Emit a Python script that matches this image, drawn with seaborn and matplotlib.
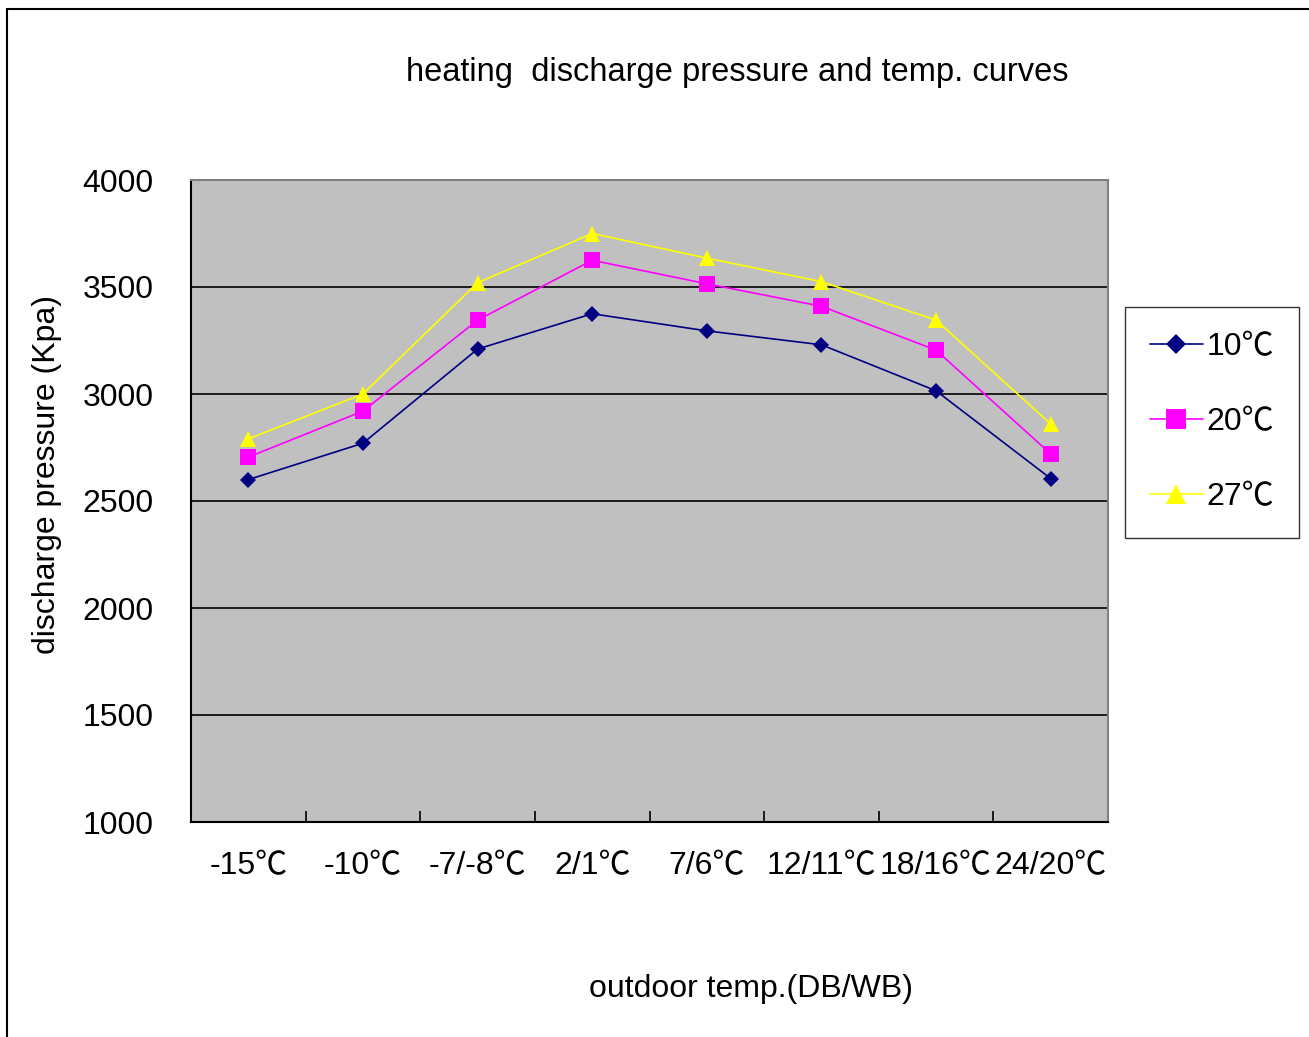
import matplotlib
matplotlib.use("Agg")
import matplotlib.pyplot as plt
from matplotlib.patches import Rectangle
from matplotlib.ticker import FixedLocator
import seaborn as sns
import pandas as pd

categories = ["-15℃", "-10℃", "-7/-8℃", "2/1℃", "7/6℃", "12/11℃", "18/16℃", "24/20℃"]
series_names = ["10℃", "20℃", "27℃"]
p_10 = [2600, 2770, 3210, 3375, 3295, 3230, 3015, 2605]
p_20 = [2705, 2920, 3345, 3625, 3515, 3410, 3205, 2720]
p_27 = [2790, 3000, 3520, 3750, 3635, 3525, 3345, 2860]
y_ticks = [1000, 1500, 2000, 2500, 3000, 3500, 4000]

rows = []
for name, vals in zip(series_names, [p_10, p_20, p_27]):
    for i, v in enumerate(vals):
        rows.append({"pos": i, "series": name, "pressure": v})
df = pd.DataFrame(rows)

sns.set_theme(style="white")
plt.rcParams["font.family"] = ["Liberation Sans", "Noto Sans CJK SC", "DejaVu Sans"]
plt.rcParams["text.color"] = "black"
plt.rcParams["xtick.color"] = "black"
plt.rcParams["ytick.color"] = "black"

FS = 23
W, H = 1309, 1037
fig = plt.figure(figsize=(W / 100, H / 100), dpi=100)
ax = fig.add_axes([191 / W, 1 - 822 / H, (1108 - 191) / W, (822 - 180) / H])
ax.set_facecolor("#C0C0C0")

palette = {"10℃": "#000080", "20℃": "#FF00FF", "27℃": "#FFFF00"}
markers = {"10℃": "D", "20℃": "s", "27℃": "^"}
sns.lineplot(data=df, x="pos", y="pressure", hue="series", style="series",
             palette=palette, markers=markers, dashes=False, linewidth=1.2,
             markersize=11, markeredgewidth=0, ax=ax, legend=False)
# diamonds slightly smaller, triangles slightly larger
for line in ax.lines:
    if line.get_marker() == "D":
        line.set_markersize(8.5)
    elif line.get_marker() == "^":
        line.set_markersize(12)

ax.set_xlim(-0.5, len(categories) - 0.5)
ax.set_ylim(1000, 4000)
ax.set_yticks(y_ticks)
ax.set_yticklabels([str(t) for t in y_ticks], fontsize=FS)
ax.set_xticks(range(len(categories)))
ax.set_xticklabels(categories, fontsize=FS)
ax.xaxis.set_minor_locator(FixedLocator([i + 0.5 for i in range(len(categories) - 1)]))
ax.tick_params(axis="x", which="major", length=0, pad=21)
ax.tick_params(axis="x", which="minor", length=8, direction="in", width=1.2, color="black", bottom=True)
ax.tick_params(axis="y", which="major", length=0, pad=27)

ax.set_axisbelow(True)
ax.yaxis.grid(True, color="black", linewidth=1.2)
ax.xaxis.grid(False)
for s in ["left", "bottom"]:
    ax.spines[s].set_color("black")
    ax.spines[s].set_linewidth(1.5)
for s in ["top", "right"]:
    ax.spines[s].set_color("#808080")
    ax.spines[s].set_linewidth(1.5)

ax.set_xlabel("")
ax.set_ylabel("")

fig.text(737 / W, 1 - 72 / H, "heating  discharge pressure and temp. curves",
         fontsize=23.5, ha="center", va="center")
fig.text(751 / W, 1 - 989 / H, "outdoor temp.(DB/WB)", fontsize=FS, ha="center", va="center")
fig.text(47 / W, 1 - 475 / H, "discharge pressure (Kpa)", fontsize=FS, ha="center",
         va="center", rotation=90)

handles = ax.lines[:3]
leg = fig.legend(handles, series_names, loc="upper left",
                 bbox_to_anchor=(1125 / W, 1 - 307 / H), borderaxespad=0,
                 fontsize=FS, frameon=True, fancybox=False, handlelength=1.65,
                 handletextpad=0.12, labelspacing=1.42, borderpad=0.78, markerscale=1.25)
leg.get_frame().set_edgecolor("black")
leg.get_frame().set_linewidth(1.0)

fig.patches.append(Rectangle((7 / W, -0.05), 1.1, 1 - 9 / H + 0.05, transform=fig.transFigure,
                             fill=False, edgecolor="black", linewidth=1.5, figure=fig))

fig.savefig("out.png", dpi=100)
